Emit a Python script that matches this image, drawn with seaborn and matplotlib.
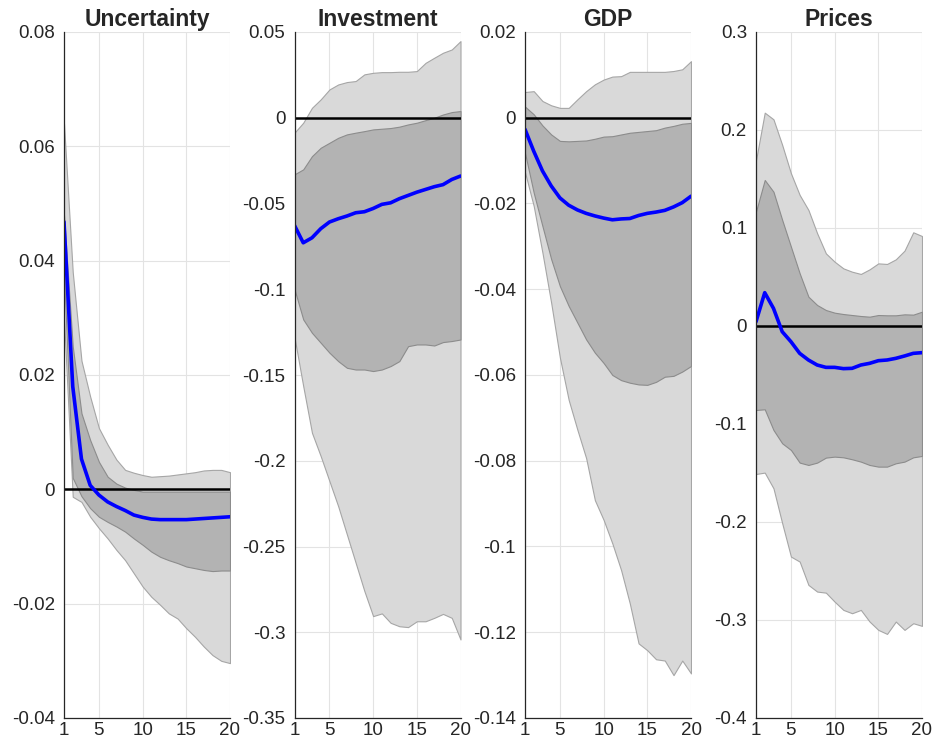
import numpy as np
import pandas as pd
import matplotlib
matplotlib.use("Agg")
import matplotlib.pyplot as plt
import seaborn as sns

# Horizon (quarters)
horizon = list(range(1, 21))

# Uncertainty response: median and credible bands
unc_med = [0.0468, 0.0180, 0.0053, 0.0007, -0.0010, -0.0022, -0.0030, -0.0037, -0.0045, -0.0049,
           -0.0052, -0.0053, -0.0053, -0.0053, -0.0053, -0.0052, -0.0051, -0.0050, -0.0049, -0.0048]
unc_hi68 = [0.0480, 0.0250, 0.0133, 0.0086, 0.0048, 0.0022, 0.0010, 0.0003, -0.0001, -0.0004,
            -0.0004, -0.0004, -0.0004, -0.0004, -0.0004, -0.0004, -0.0004, -0.0004, -0.0004, -0.0004]
unc_lo68 = [0.0380, 0.0020, -0.0012, -0.0033, -0.0048, -0.0057, -0.0065, -0.0074, -0.0086, -0.0097,
            -0.0109, -0.0118, -0.0124, -0.0129, -0.0135, -0.0138, -0.0141, -0.0143, -0.0142, -0.0142]
unc_hi90 = [0.0640, 0.0380, 0.0225, 0.0162, 0.0107, 0.0078, 0.0052, 0.0034, 0.0029, 0.0025,
            0.0022, 0.0023, 0.0024, 0.0026, 0.0028, 0.0030, 0.0033, 0.0034, 0.0034, 0.0030]
unc_lo90 = [0.0300, -0.0013, -0.0022, -0.0048, -0.0068, -0.0086, -0.0106, -0.0124, -0.0147, -0.0170,
            -0.0188, -0.0202, -0.0217, -0.0226, -0.0243, -0.0258, -0.0275, -0.0290, -0.0300, -0.0304]

# Investment response
inv_med = [-0.0628, -0.0729, -0.0700, -0.0647, -0.0608, -0.0589, -0.0573, -0.0554, -0.0548, -0.0529,
           -0.0505, -0.0496, -0.0472, -0.0453, -0.0434, -0.0418, -0.0402, -0.0390, -0.0360, -0.0340]
inv_hi68 = [-0.0330, -0.0301, -0.0224, -0.0175, -0.0146, -0.0117, -0.0097, -0.0087, -0.0078, -0.0068,
            -0.0064, -0.0060, -0.0052, -0.0039, -0.0029, -0.0014, 0.0000, 0.0019, 0.0033, 0.0039]
inv_lo68 = [-0.1000, -0.1176, -0.1254, -0.1312, -0.1370, -0.1419, -0.1458, -0.1468, -0.1468, -0.1477,
            -0.1468, -0.1448, -0.1419, -0.1332, -0.1322, -0.1322, -0.1328, -0.1308, -0.1302, -0.1293]
inv_hi90 = [-0.0087, -0.0029, 0.0058, 0.0107, 0.0165, 0.0194, 0.0208, 0.0214, 0.0253, 0.0262,
            0.0266, 0.0266, 0.0268, 0.0268, 0.0272, 0.0320, 0.0350, 0.0379, 0.0398, 0.0447]
inv_lo90 = [-0.1280, -0.1565, -0.1837, -0.1973, -0.2119, -0.2265, -0.2430, -0.2595, -0.2760, -0.2906,
            -0.2890, -0.2945, -0.2965, -0.2970, -0.2936, -0.2936, -0.2916, -0.2893, -0.2916, -0.3042]

# GDP response
gdp_med = [-0.0027, -0.0078, -0.0124, -0.0159, -0.0187, -0.0204, -0.0215, -0.0223, -0.0229, -0.0234,
           -0.0238, -0.0236, -0.0235, -0.0228, -0.0223, -0.0220, -0.0216, -0.0208, -0.0198, -0.0183]
gdp_hi68 = [0.0026, 0.0008, -0.0018, -0.0039, -0.0054, -0.0055, -0.0054, -0.0053, -0.0049, -0.0044,
            -0.0043, -0.0039, -0.0035, -0.0033, -0.0031, -0.0029, -0.0023, -0.0019, -0.0014, -0.0012]
gdp_lo68 = [-0.0082, -0.0175, -0.0253, -0.0330, -0.0393, -0.0439, -0.0478, -0.0517, -0.0548, -0.0572,
            -0.0600, -0.0612, -0.0618, -0.0622, -0.0623, -0.0616, -0.0604, -0.0602, -0.0592, -0.0579]
gdp_hi90 = [0.0060, 0.0062, 0.0039, 0.0029, 0.0023, 0.0023, 0.0043, 0.0062, 0.0078, 0.0089,
            0.0096, 0.0097, 0.0107, 0.0107, 0.0107, 0.0107, 0.0107, 0.0109, 0.0113, 0.0132]
gdp_lo90 = [-0.0127, -0.0206, -0.0315, -0.0432, -0.0560, -0.0658, -0.0728, -0.0794, -0.0892, -0.0938,
            -0.0993, -0.1055, -0.1133, -0.1226, -0.1242, -0.1263, -0.1266, -0.1300, -0.1266, -0.1296]

# Prices response
prc_med = [0.0044, 0.0340, 0.0180, -0.0058, -0.0160, -0.0279, -0.0347, -0.0398, -0.0422, -0.0422,
           -0.0435, -0.0432, -0.0398, -0.0381, -0.0354, -0.0347, -0.0330, -0.0306, -0.0279, -0.0272]
prc_hi68 = [0.1167, 0.1490, 0.1370, 0.1082, 0.0809, 0.0537, 0.0299, 0.0214, 0.0163, 0.0136,
            0.0122, 0.0112, 0.0102, 0.0095, 0.0112, 0.0109, 0.0109, 0.0119, 0.0116, 0.0146]
prc_lo68 = [-0.0857, -0.0850, -0.1061, -0.1197, -0.1265, -0.1394, -0.1418, -0.1394, -0.1343, -0.1333,
            -0.1340, -0.1360, -0.1384, -0.1418, -0.1435, -0.1435, -0.1401, -0.1384, -0.1340, -0.1326]
prc_hi90 = [0.1690, 0.2177, 0.2109, 0.1847, 0.1558, 0.1337, 0.1184, 0.0946, 0.0741, 0.0656,
            0.0588, 0.0554, 0.0531, 0.0578, 0.0639, 0.0633, 0.0680, 0.0769, 0.0956, 0.0918]
prc_lo90 = [-0.1510, -0.1496, -0.1656, -0.2013, -0.2353, -0.2404, -0.2642, -0.2710, -0.2721, -0.2813,
            -0.2897, -0.2931, -0.2897, -0.3016, -0.3101, -0.3142, -0.3016, -0.3101, -0.3033, -0.3060]

titles = ["Uncertainty", "Investment", "GDP", "Prices"]
y_ticks = [
    [-0.04, -0.02, 0, 0.02, 0.04, 0.06, 0.08],
    [-0.35, -0.3, -0.25, -0.2, -0.15, -0.1, -0.05, 0, 0.05],
    [-0.14, -0.12, -0.1, -0.08, -0.06, -0.04, -0.02, 0, 0.02],
    [-0.4, -0.3, -0.2, -0.1, 0, 0.1, 0.2, 0.3],
]
x_ticks = [1, 5, 10, 15, 20]

series = [
    (unc_med, unc_lo68, unc_hi68, unc_lo90, unc_hi90),
    (inv_med, inv_lo68, inv_hi68, inv_lo90, inv_hi90),
    (gdp_med, gdp_lo68, gdp_hi68, gdp_lo90, gdp_hi90),
    (prc_med, prc_lo68, prc_hi68, prc_lo90, prc_hi90),
]

sns.set_style("white")
plt.rcParams["font.family"] = ["Liberation Sans", "DejaVu Sans"]


def fmt(v):
    if v == 0:
        return "0"
    return f"{v:.2f}".rstrip("0").rstrip(".")


fig = plt.figure(figsize=(9.35, 7.51), dpi=100)
lefts = [64 / 935, 294.5 / 935, 525 / 935, 756 / 935]
width = 166 / 935
bottom = 1 - 718 / 751
height = (718 - 32) / 751

for i, (title, yt, (med, lo68, hi68, lo90, hi90)) in enumerate(zip(titles, y_ticks, series)):
    ax = fig.add_axes([lefts[i], bottom, width, height])
    df = pd.DataFrame({"h": horizon, "med": med, "lo68": lo68, "hi68": hi68,
                       "lo90": lo90, "hi90": hi90})
    ax.fill_between(df["h"], df["lo90"], df["hi90"], facecolor="#d9d9d9",
                    edgecolor="#a6a6a6", linewidth=0.8, zorder=2)
    ax.fill_between(df["h"], df["lo68"], df["hi68"], facecolor="#b3b3b3",
                    edgecolor="#8c8c8c", linewidth=0.8, zorder=3)
    ax.axhline(0, color="black", linewidth=1.8, zorder=4)
    sns.lineplot(data=df, x="h", y="med", ax=ax, color="#0000ff",
                 linewidth=2.6, zorder=5)

    ax.set_xlim(1, 20)
    ax.set_ylim(yt[0], yt[-1])
    ax.set_xticks(x_ticks)
    ax.set_xticklabels([str(t) for t in x_ticks])
    ax.set_yticks(yt)
    ax.set_yticklabels([fmt(t) for t in yt])
    ax.set_xlabel("")
    ax.set_ylabel("")
    ax.set_title(title, fontsize=16.5, fontweight="bold", pad=4)

    ax.grid(True, color="#e3e3e3", linewidth=0.8, zorder=1)
    ax.set_axisbelow(True)
    for side in ("top", "right"):
        ax.spines[side].set_visible(False)
    for side in ("left", "bottom"):
        ax.spines[side].set_color("#262626")
        ax.spines[side].set_linewidth(0.9)
        ax.spines[side].set_zorder(6)
    ax.tick_params(axis="both", direction="in", length=5, width=0.9,
                   color="#262626", labelsize=13.5, labelcolor="#262626")
    ax.tick_params(axis="y", pad=6.5)
    ax.tick_params(axis="x", pad=3)

fig.savefig("out.png", dpi=100)
